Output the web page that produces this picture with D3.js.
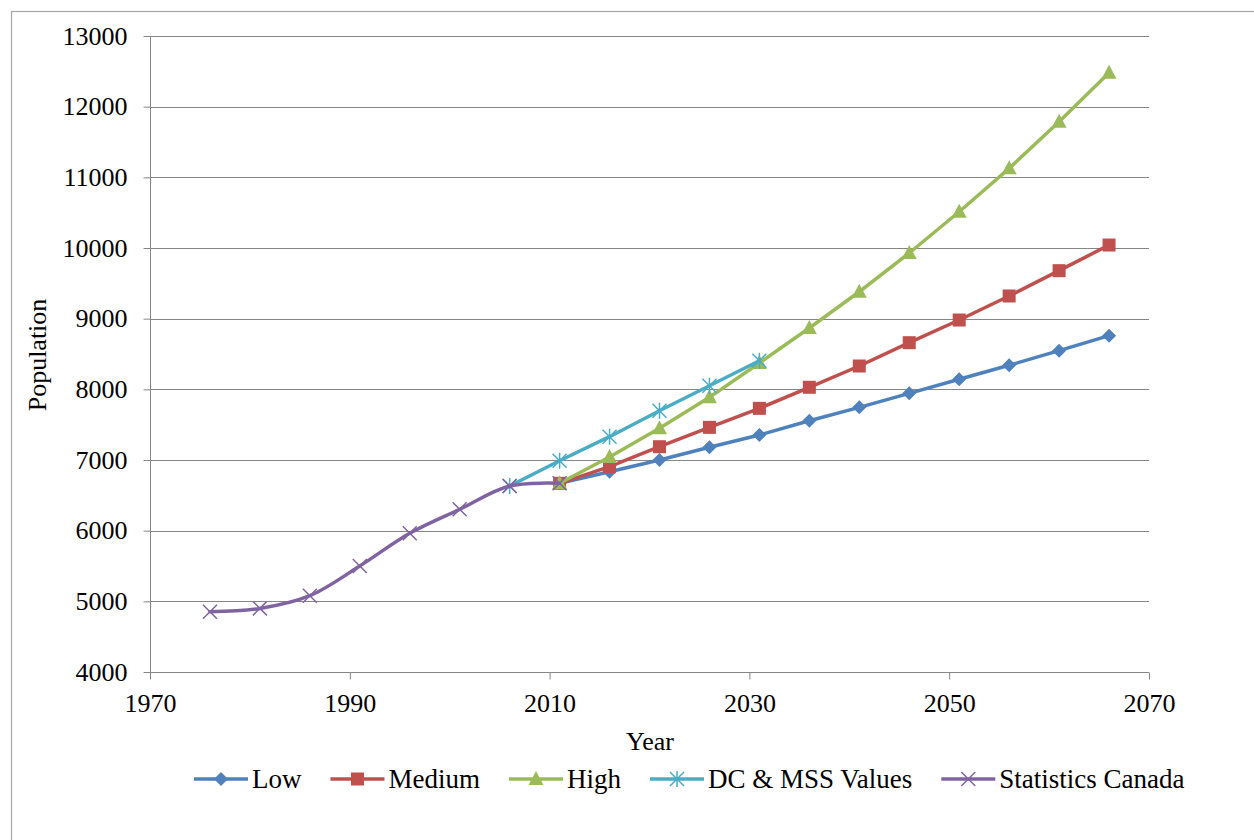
<!DOCTYPE html>
<html>
<head>
<meta charset="utf-8">
<script src="https://cdn.jsdelivr.net/npm/d3@7"></script>
<style>
  html, body { margin: 0; padding: 0; background: #fff; }
  svg { display: block; }
  text { font-family: "Liberation Serif", "Times New Roman", serif; fill: #000; }
</style>
</head>
<body>
<svg id="chart" width="1254" height="840"></svg>
<script>
// ---------- data ----------
const statsYears = [1976, 1981, 1986, 1991, 1996, 2001, 2006, 2011];
const statsValues = [4853, 4900, 5080, 5500, 5963, 6302, 6632, 6670];

const dcYears = [2006, 2011, 2016, 2021, 2026, 2031];
const dcValues = [6632, 6990, 7330, 7697, 8050, 8405];

const projYears = [2011, 2016, 2021, 2026, 2031, 2036, 2041, 2046, 2051, 2056, 2061, 2066];
const lowValues = [6670, 6834, 7000, 7180, 7354, 7556, 7745, 7943, 8142, 8340, 8547, 8759];
const mediumValues = [6670, 6905, 7188, 7462, 7731, 8029, 8330, 8660, 8981, 9321, 9679, 10042];
const highValues = [6670, 7042, 7448, 7887, 8372, 8868, 9381, 9929, 10513, 11127, 11787, 12480];

const xTicks = [1970, 1990, 2010, 2030, 2050, 2070];
const yTicks = [4000, 5000, 6000, 7000, 8000, 9000, 10000, 11000, 12000, 13000];

const seriesNames = ["Low", "Medium", "High", "DC & MSS Values", "Statistics Canada"];
const seriesColors = ["#4F81BD", "#C0504D", "#9BBB59", "#4BACC6", "#8064A2"];
const seriesMarkers = ["diamond", "square", "triangle", "star", "x"];

const xTitle = "Year";
const yTitle = "Population";

// ---------- layout ----------
const svg = d3.select("#chart");
const pLeft = 150, pRight = 1149, pTop = 36, pBottom = 672;

const x = d3.scaleLinear().domain([1970, 2070]).range([pLeft, pRight]);
const y = d3.scaleLinear().domain([4000, 13000]).range([pBottom, pTop]);

// outer border
svg.append("rect").attr("x", 11.5).attr("y", 11.5).attr("width", 1300).attr("height", 900)
  .attr("fill", "none").attr("stroke", "#a6a6a6").attr("stroke-width", 1.2);

// gridlines
svg.append("g").selectAll("line").data(yTicks.slice(1)).join("line")
  .attr("x1", pLeft).attr("x2", pRight)
  .attr("y1", d => Math.round(y(d)) + 0.5).attr("y2", d => Math.round(y(d)) + 0.5)
  .attr("stroke", "#868686").attr("stroke-width", 1);

// y axis
const yAxis = svg.append("g").attr("transform", `translate(${pLeft + 0.5},0)`)
  .call(d3.axisLeft(y).tickValues(yTicks).tickSize(7).tickPadding(16).tickFormat(d3.format("d")));
yAxis.attr("font-family", null);
yAxis.select(".domain").attr("stroke", "#868686").attr("d", `M0,${pTop}V${pBottom + 7}`);
yAxis.selectAll(".tick line").attr("stroke", "#868686");
yAxis.selectAll(".tick text").style("font-size", "26px").style("font-family", "'Liberation Serif', serif").attr("fill", "#000");

// x axis
const xAxis = svg.append("g").attr("transform", `translate(0,${pBottom + 0.5})`)
  .call(d3.axisBottom(x).tickValues(xTicks).tickSize(7).tickPadding(14).tickFormat(d3.format("d")));
xAxis.attr("font-family", null);
xAxis.select(".domain").attr("stroke", "#868686").attr("d", `M${pLeft},0H${pRight}`);
xAxis.selectAll(".tick line").attr("stroke", "#868686");
xAxis.selectAll(".tick text").style("font-size", "26px").style("font-family", "'Liberation Serif', serif").attr("fill", "#000");

// axis titles
svg.append("text").attr("x", 650).attr("y", 750).attr("text-anchor", "middle")
  .style("font-size", "26px").text(xTitle);
svg.append("text").attr("transform", "translate(46,355) rotate(-90)").attr("text-anchor", "middle")
  .style("font-size", "26px").text(yTitle);

// ---------- markers ----------
function drawMarker(g, type, color, cx, cy) {
  const s = 7;
  if (type === "diamond") {
    g.append("path").attr("d", `M${cx},${cy - s}L${cx + s},${cy}L${cx},${cy + s}L${cx - s},${cy}Z`).attr("fill", color);
  } else if (type === "square") {
    g.append("rect").attr("x", cx - 6.5).attr("y", cy - 6.5).attr("width", 13).attr("height", 13).attr("fill", color);
  } else if (type === "triangle") {
    g.append("path").attr("d", `M${cx},${cy - 8}L${cx + 7.5},${cy + 6}L${cx - 7.5},${cy + 6}Z`).attr("fill", color);
  } else if (type === "star") {
    const r = 7;
    g.append("path").attr("d",
      `M${cx - r},${cy - r}L${cx + r},${cy + r}M${cx - r},${cy + r}L${cx + r},${cy - r}M${cx},${cy - r - 1}L${cx},${cy + r + 1}`)
      .attr("stroke", color).attr("stroke-width", 1.5).attr("fill", "none");
  } else if (type === "x") {
    const r = 7;
    g.append("path").attr("d", `M${cx - r},${cy - r}L${cx + r},${cy + r}M${cx - r},${cy + r}L${cx + r},${cy - r}`)
      .attr("stroke", color).attr("stroke-width", 1.5).attr("fill", "none");
  }
}

const series = [
  { name: seriesNames[0], color: seriesColors[0], marker: seriesMarkers[0], xs: projYears, ys: lowValues, curve: d3.curveLinear },
  { name: seriesNames[1], color: seriesColors[1], marker: seriesMarkers[1], xs: projYears, ys: mediumValues, curve: d3.curveLinear },
  { name: seriesNames[2], color: seriesColors[2], marker: seriesMarkers[2], xs: projYears, ys: highValues, curve: d3.curveLinear },
  { name: seriesNames[3], color: seriesColors[3], marker: seriesMarkers[3], xs: dcYears, ys: dcValues, curve: d3.curveLinear },
  { name: seriesNames[4], color: seriesColors[4], marker: seriesMarkers[4], xs: statsYears, ys: statsValues, curve: d3.curveCatmullRom.alpha(0.5) }
];

const plot = svg.append("g");
series.forEach(s => {
  const pts = s.xs.map((yr, i) => [x(yr), y(s.ys[i])]);
  const line = d3.line().curve(s.curve);
  const g = plot.append("g");
  g.append("path").attr("d", line(pts)).attr("fill", "none").attr("stroke", s.color)
    .attr("stroke-width", 3.5).attr("stroke-linejoin", "round").attr("stroke-linecap", "round");
  pts.forEach(p => drawMarker(g, s.marker, s.color, p[0], p[1]));
});

// ---------- legend ----------
const legend = svg.append("g");
let lx = 194;
const ly = 779;
series.forEach(s => {
  const g = legend.append("g");
  g.append("line").attr("x1", lx).attr("x2", lx + 54).attr("y1", ly).attr("y2", ly)
    .attr("stroke", s.color).attr("stroke-width", 3.5);
  drawMarker(g, s.marker, s.color, lx + 27, ly);
  const t = g.append("text").attr("x", lx + 58).attr("y", ly + 9).style("font-size", "27px").text(s.name);
  const w = t.node().getComputedTextLength();
  lx = lx + 58 + w + 29;
});
</script>
</body>
</html>
